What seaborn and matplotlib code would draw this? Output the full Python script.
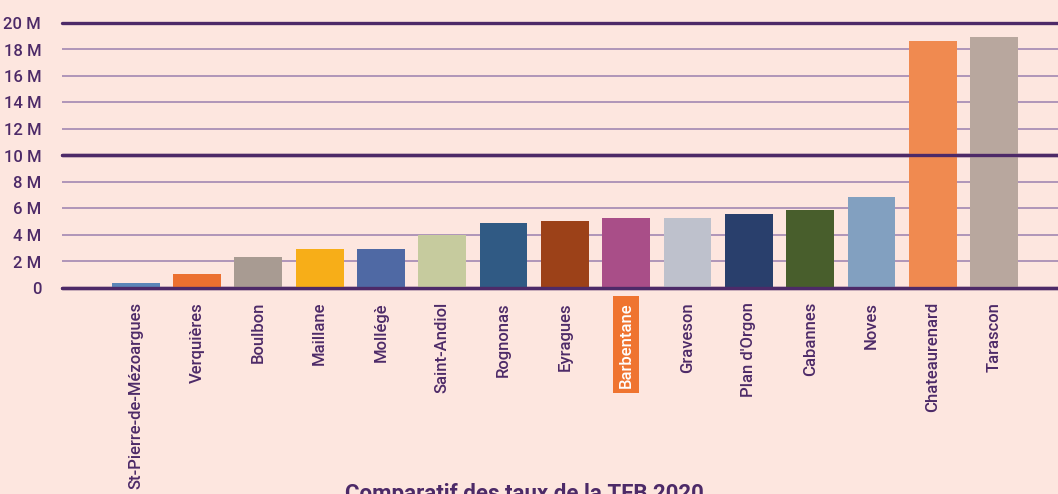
import matplotlib
matplotlib.use("Agg")
import matplotlib.pyplot as plt
import seaborn as sns
import pandas as pd

communes = ["St-Pierre-de-Mézoargues", "Verquières", "Boulbon", "Maillane", "Mollégè",
            "Saint-Andiol", "Rognonas", "Eyragues", "Barbentane", "Graveson",
            "Plan d'Orgon", "Cabannes", "Noves", "Chateaurenard", "Tarascon"]
values_m = [0.36, 1.06, 2.34, 2.92, 2.92, 3.98, 4.92, 5.08, 5.26, 5.26,
            5.56, 5.86, 6.85, 18.62, 18.92]
colors = ["#5b86b8", "#ec7030", "#a89b92", "#f7ae18", "#4f69a4", "#c6cb9e",
          "#305a84", "#9c4118", "#a94e88", "#bec1cc", "#293f6c", "#485e2c",
          "#82a0c0", "#f08a50", "#b8a79e"]
yticks = [0, 2, 4, 6, 8, 10, 12, 14, 16, 18, 20]
ytick_labels = ["0", "2 M", "4 M", "6 M", "8 M", "10 M", "12 M", "14 M", "16 M", "18 M", "20 M"]
highlight = "Barbentane"
title = "Comparatif des taux de la TFB 2020"

BG = "#fde6df"
PURPLE = "#4d2a68"
GRID = "#9b7fae"
FONT = ["Roboto", "DejaVu Sans"]

sns.set_theme(style="white")
plt.rcParams["font.family"] = FONT

df = pd.DataFrame({"commune": communes, "value": values_m})

fig = plt.figure(figsize=(10.58, 4.94), dpi=100, facecolor=BG)
ax = fig.add_axes([62 / 1058, 1 - 288 / 494, 1 - 62 / 1058, (288 - 23) / 494])
ax.set_facecolor(BG)

for t in yticks:
    if t in (0, 10, 20):
        ax.axhline(t, color=PURPLE, lw=2.4, zorder=0.5, clip_on=False)
    else:
        ax.axhline(t, color=GRID, lw=1.1, zorder=0.5)

sns.barplot(data=df, x="commune", y="value", hue="commune",
            palette=dict(zip(communes, colors)), width=0.78, legend=False,
            saturation=1, ax=ax, zorder=2, edgecolor="none")
for t in (0, 10):
    ax.axhline(t, color=PURPLE, lw=2.4, zorder=3, clip_on=False)

ax.set_ylim(0, 20)
ax.set_xlim(-1.2, 15.04)
ax.set_yticks(yticks)
ax.set_yticklabels(ytick_labels)
ax.set_xlabel("")
ax.set_ylabel("")
for s in ax.spines.values():
    s.set_visible(False)
ax.tick_params(axis="y", length=0, pad=15, labelsize=12, labelcolor=PURPLE)
ax.tick_params(axis="x", length=0, pad=10, labelsize=12, labelcolor=PURPLE)
for lab in ax.get_yticklabels():
    lab.set_fontweight("medium")
ax.set_xticks(range(len(communes)))
ax.set_xticklabels(communes, rotation=90, va="top", ha="center")
for lab in ax.get_xticklabels():
    lab.set_fontweight("medium")
    if lab.get_text() == highlight:
        lab.set_color("white")
        lab.set_bbox(dict(facecolor="#ef7430", edgecolor="none", pad=4))

fig.text(0.496, -0.012, title, ha="center", va="baseline", fontsize=16,
         fontweight="bold", color=PURPLE)

fig.savefig("out.png", dpi=100, facecolor=BG)
